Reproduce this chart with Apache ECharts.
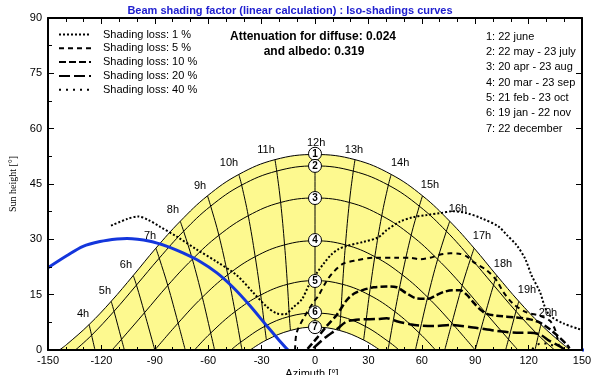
<!DOCTYPE html>
<html>
<head>
<meta charset="utf-8">
<script src="https://cdn.jsdelivr.net/npm/echarts@6/dist/echarts.min.js"></script>
<style>
html, body { margin: 0; padding: 0; background: #fff; }
#chart { width: 606px; height: 375px; }
</style>
</head>
<body>
<div id="chart"></div>
<script>
// sun paths [azimuth, sun height]
const june = [[-143.6,0],[-139.5,1.5],[-126.9,6.9],[-114.5,13.2],[-102.1,20.2],[-89.4,27.6],[-75.7,34.9],[-60.4,41.8],[-42.8,47.6],[-22.5,51.6],[0,53.0],[22.5,51.6],[42.8,47.6],[60.4,41.8],[75.7,34.9],[89.4,27.6],[102.1,20.2],[114.5,13.2],[126.9,6.9],[139.5,1.5],[143.6,0]]
const mayJuly = [[-134.6,0],[-125.5,4.0],[-112.9,10.5],[-100.3,17.6],[-87.5,24.9],[-73.8,32.2],[-58.6,39.0],[-41.2,44.7],[-21.5,48.5],[0,49.9],[21.5,48.5],[41.2,44.7],[58.6,39.0],[73.8,32.2],[87.5,24.9],[100.3,17.6],[112.9,10.5],[125.5,4.0],[134.6,0]]
const aprAug = [[-114.0,0],[-108.7,2.9],[-95.8,10.1],[-82.7,17.5],[-68.9,24.6],[-54.0,31.1],[-37.5,36.4],[-19.3,40.0],[0,41.2],[19.3,40.0],[37.5,36.4],[54.0,31.1],[68.9,24.6],[82.7,17.5],[95.8,10.1],[108.7,2.9],[114.0,0]]
const marSep = [[-90,0],[-76.9,7.3],[-63.3,14.3],[-49.0,20.4],[-33.6,25.3],[-17.1,28.5],[0,29.6],[17.1,28.5],[33.6,25.3],[49.0,20.4],[63.3,14.3],[76.9,7.3],[90,0]]
const febOct = [[-67.7,0],[-58.6,4.6],[-44.9,10.4],[-30.5,14.9],[-15.5,17.8],[0,18.8],[15.5,17.8],[30.5,14.9],[44.9,10.4],[58.6,4.6],[67.7,0]]
const janNov = [[-47.2,0],[-41.8,2.1],[-28.3,6.4],[-14.4,9.1],[0,10.0],[14.4,9.1],[28.3,6.4],[41.8,2.1],[47.2,0]]
const december = [[-36.4,0],[-27.3,2.7],[-13.8,5.3],[0,6.2],[13.8,5.3],[27.3,2.7],[36.4,0]]

// hour lines, from june down to december / horizon
const h4 = [[-126.9,6.9],[-125.5,4.0],[-123.6,0]]
const h5 = [[-114.5,13.2],[-112.9,10.5],[-108.7,2.9],[-107.1,0]]
const h6 = [[-102.1,20.2],[-100.3,17.6],[-95.8,10.1],[-90,0]]
const h7 = [[-89.4,27.6],[-87.5,24.9],[-82.7,17.5],[-76.9,7.3],[-72.9,0]]
const h8 = [[-75.7,34.9],[-73.8,32.2],[-68.9,24.6],[-63.3,14.3],[-58.6,4.6],[-56.4,0]]
const h9 = [[-60.4,41.8],[-58.6,39.0],[-54.0,31.1],[-49.0,20.4],[-44.9,10.4],[-41.8,2.1],[-41.0,0]]
const h10 = [[-42.8,47.6],[-41.2,44.7],[-37.5,36.4],[-33.6,25.3],[-30.5,14.9],[-28.3,6.4],[-27.3,2.7]]
const h11 = [[-22.5,51.6],[-21.5,48.5],[-19.3,40.0],[-17.1,28.5],[-15.5,17.8],[-14.4,9.1],[-13.8,5.3]]
const h12 = [[0,53.0],[0,6.2]]
const h13 = [[22.5,51.6],[21.5,48.5],[19.3,40.0],[17.1,28.5],[15.5,17.8],[14.4,9.1],[13.8,5.3]]
const h14 = [[42.8,47.6],[41.2,44.7],[37.5,36.4],[33.6,25.3],[30.5,14.9],[28.3,6.4],[27.3,2.7]]
const h15 = [[60.4,41.8],[58.6,39.0],[54.0,31.1],[49.0,20.4],[44.9,10.4],[41.8,2.1],[41.0,0]]
const h16 = [[75.7,34.9],[73.8,32.2],[68.9,24.6],[63.3,14.3],[58.6,4.6],[56.4,0]]
const h17 = [[89.4,27.6],[87.5,24.9],[82.7,17.5],[76.9,7.3],[72.9,0]]
const h18 = [[102.1,20.2],[100.3,17.6],[95.8,10.1],[90,0]]
const h19 = [[114.5,13.2],[112.9,10.5],[108.7,2.9],[107.1,0]]
const h20 = [[126.9,6.9],[125.5,4.0],[123.6,0]]

const hourNames = ['4h','5h','6h','7h','8h','9h','10h','11h','12h','13h','14h','15h','16h','17h','18h','19h','20h']
const hourLabelPos = [[-130.3,9.7],[-118.0,16.0],[-106.2,23.1],[-92.7,30.8],[-79.8,37.9],[-64.6,44.5],[-48.3,50.8],[-27.5,54.3],[0.6,56.0],[21.9,54.3],[47.8,50.8],[64.6,44.8],[80.3,38.2],[93.8,30.8],[105.6,23.4],[119.1,16.3],[130.9,10.0]]

const dateMarks = ['1','2','3','4','5','6','7']
const dateMarkHeights = [53.2, 49.9, 41.2, 29.8, 18.7, 10.2, 6.2]
const dateLabels = ['1: 22 june','2: 22 may - 23 july','3: 20 apr - 23 aug','4: 20 mar - 23 sep','5: 21 feb - 23 oct','6: 19 jan - 22 nov','7: 22 december']

// iso-shading curves
const lossNames = ['Shading loss: 1 %','Shading loss: 5 %','Shading loss: 10 %','Shading loss: 20 %','Shading loss: 40 %']
const loss1 = [[-114.6,33.7],[-105.6,35.5],[-99.4,36.2],[-93.8,35.3],[-87.0,33.4],[-77.5,30.7],[-66.3,27.2],[-55.1,23.9],[-43.8,20.2],[-34.8,15.6],[-27.0,11.7],[-21.4,9.9],[-16.9,9.7],[-12.4,11.5],[-7.3,13.8],[-3.5,17.5],[1.2,21.0],[5,23.5],[9,25.8],[13,27.3],[17.8,28.2],[27.1,29.3],[35.4,30.5],[40.3,32.5],[47.8,34.8],[55.1,36.0],[62.8,36.6],[70.2,37.1],[77.5,37.6],[85.2,37.1],[93.6,35.7],[103.0,33.5],[107.7,31.2],[113.3,28.4],[118.0,24.8],[121.7,20.2],[126.4,15.7],[129.2,11.6],[132.0,9.3],[139.5,7.2],[148.9,5.6]]
const loss5 = [[-11.2,0],[-10.3,4.7],[-5.6,9.3],[-0.9,12.9],[1.9,14.7],[6.6,18.8],[10.3,21.1],[15.9,23.4],[23.4,24.3],[32.8,25.0],[45.9,25.0],[53.4,25.0],[59.0,24.6],[64.6,25.0],[70,25.8],[76,26.2],[81,26.1],[85.2,25.4],[88.9,23.9],[96.5,21.6],[102.1,18.8],[105.8,15.7],[111.4,12.5],[118.9,10.2],[126.4,9.3],[132.0,7.9],[134.8,5.6],[136.3,3.0],[137,1.0]]
const loss10 = [[-4.2,0.3],[1.5,3.5],[6.6,6.5],[12.2,9.5],[17.8,13.5],[22,15.3],[27.1,16.3],[33,17.0],[40,17.2],[45.9,17.0],[51,15.5],[57.1,14.0],[63.7,13.9],[68,14.8],[72.1,15.7],[77,16.2],[81.5,16.2],[85.2,15.0],[88.5,13.2],[92.7,11.0],[96.5,9.8],[102.1,9.3],[113.3,8.8],[120.8,8.3],[126.4,7.4],[132.0,5.6],[137.6,3.3],[141.4,1.5],[143,0.5]]
const loss20 = [[-0.9,0.5],[5.6,3.3],[12.2,5.6],[17.8,7.7],[25.3,8.3],[34.7,8.4],[40.3,8.6],[45.9,7.8],[53.4,7.0],[60,6.6],[67.4,6.5],[75.8,6.8],[88.9,6.1],[102.1,5.2],[113.3,4.7],[120.8,4.7],[126.4,4.2],[132.0,2.4],[137.6,1.0],[140,0.2]]
const loss40 = [[122,0.3],[127,1.8],[132,1.6],[136,0.4]]

// plane limit ("behind the plane")
const behindPlane = [[-150,22.3],[-139.3,25.6],[-130.3,28.1],[-120.8,29.4],[-111.2,30.1],[-105.6,30.2],[-92.7,29.5],[-83.1,28.1],[-74.2,26.3],[-64.6,24.0],[-55.1,20.9],[-46.1,17.0],[-36.5,12.0],[-27.0,6.5],[-19.7,2.4],[-15.2,0]]
const behindTail = [[150,0],[163.5,0]]

const FONT = 'Liberation Sans, Arial, sans-serif'

function thinLine(data) {
  return {
    type: 'line', data: data, smooth: 0.4, symbol: 'none', silent: true,
    lineStyle: { color: '#000', width: 1 }
  }
}

function lossLine(name, data, width, dash) {
  return {
    name: name, type: 'line', data: data, smooth: 0.3, symbol: 'none', silent: true,
    lineStyle: { color: '#000', width: width, type: dash },
    itemStyle: { color: '#000' }
  }
}

const chart = echarts.init(document.getElementById('chart'))

const series = [
  {
    type: 'line', data: june, smooth: 0.4, symbol: 'none', silent: true,
    lineStyle: { color: '#000', width: 1 },
    areaStyle: { color: '#fdf98f', opacity: 1 }
  },
  {
    type: 'line', data: december, smooth: 0.4, symbol: 'none', silent: true,
    lineStyle: { color: '#000', width: 1 },
    areaStyle: { color: '#fff', opacity: 1 }
  }
]
;[mayJuly, aprAug, marSep, febOct, janNov].forEach(d => series.push(thinLine(d)))
;[h4, h5, h6, h7, h8, h9, h10, h11, h12, h13, h14, h15, h16, h17, h18, h19, h20].forEach(d => series.push(thinLine(d)))

series.push(lossLine(lossNames[0], loss1, 2, [2, 2]))
series.push(lossLine(lossNames[1], loss5, 2, [5, 4]))
series.push(lossLine(lossNames[2], loss10, 2.5, [7, 3]))
series.push(lossLine(lossNames[3], loss20, 2.5, [11, 4]))
series.push(lossLine(lossNames[4], loss40, 2, [2, 5]))

series.push({
  type: 'line', data: behindPlane, smooth: 0.3, symbol: 'none', silent: true,
  lineStyle: { color: '#1436dc', width: 3 }
})
series.push({
  type: 'line', data: behindTail, symbol: 'none', silent: true, clip: false,
  lineStyle: { color: '#1436dc', width: 3 }
})

series.push({
  type: 'scatter', silent: true, symbolSize: 0, z: 5,
  itemStyle: { opacity: 1 },
  data: hourNames.map((n, i) => ({ name: n, value: hourLabelPos[i] })),
  label: { show: true, position: 'inside', formatter: '{b}', color: '#000', fontSize: 11, fontFamily: FONT }
})
series.push({
  type: 'scatter', silent: true, symbol: 'circle', symbolSize: 13, z: 6,
  itemStyle: { color: '#fff', borderColor: '#000', borderWidth: 1, opacity: 1 },
  data: dateMarks.map((n, i) => ({ name: n, value: [0, dateMarkHeights[i]] })),
  label: { show: true, position: 'inside', formatter: '{b}', color: '#000', fontSize: 10, fontWeight: 'bold', fontFamily: FONT }
})

const graphic = [
  { type: 'text', x: 290, y: 11, style: { text: 'Beam shading factor (linear calculation) : Iso-shadings curves', fill: '#2020d0', font: 'bold 11px ' + FONT, textAlign: 'center', textVerticalAlign: 'middle' } },
  { type: 'text', x: 313, y: 37, style: { text: 'Attenuation for diffuse: 0.024', fill: '#000', font: 'bold 12px ' + FONT, textAlign: 'center', textVerticalAlign: 'middle' } },
  { type: 'text', x: 314, y: 52, style: { text: 'and albedo: 0.319', fill: '#000', font: 'bold 12px ' + FONT, textAlign: 'center', textVerticalAlign: 'middle' } },
  { type: 'text', x: 230, y: 324, style: { text: 'Behind', fill: '#2a2ab8', font: '11px ' + FONT, textAlign: 'center', textVerticalAlign: 'middle' } },
  { type: 'text', x: 224, y: 335, style: { text: 'the plane', fill: '#2a2ab8', font: '11px ' + FONT, textAlign: 'center', textVerticalAlign: 'middle' } },
  { type: 'text', x: 312, y: 368, style: { text: 'Azimuth [°]', fill: '#000', font: '11px ' + FONT, textAlign: 'center', textVerticalAlign: 'top' } }
]
dateLabels.forEach((t, i) => {
  graphic.push({ type: 'text', x: 486, y: 36.7 + i * 15.3, style: { text: t, fill: '#000', font: '11px ' + FONT, textAlign: 'left', textVerticalAlign: 'middle' } })
})

const frameLine = { onZero: false, lineStyle: { color: '#000', width: 2 } }

chart.setOption({
  animation: false,
  backgroundColor: '#fff',
  textStyle: { fontFamily: FONT },
  grid: { left: 48, right: 24, top: 18, bottom: 25 },
  legend: {
    orient: 'vertical', left: 58, top: 29, itemWidth: 32, itemHeight: 12, itemGap: 2.8, padding: 0,
    selectedMode: false, data: lossNames,
    itemStyle: { opacity: 0, borderWidth: 0 },
    textStyle: { fontSize: 11, color: '#000', fontFamily: FONT, padding: [0, 0, 0, 7] }
  },
  xAxis: [
    {
      type: 'value', position: 'bottom', min: -150, max: 150, interval: 30, z: 10,
      axisLine: frameLine,
      axisTick: { inside: true, length: 5, lineStyle: { color: '#000' } },
      minorTick: { show: true, splitNumber: 3, length: 3, lineStyle: { color: '#000' } },
      axisLabel: { color: '#000', fontSize: 11, margin: 5 },
      splitLine: { show: false }
    },
    {
      type: 'value', position: 'top', min: -150, max: 150, interval: 30, z: 10,
      axisLine: frameLine,
      axisTick: { inside: true, length: 6, lineStyle: { color: '#000' } },
      minorTick: { show: true, splitNumber: 3, length: 4, lineStyle: { color: '#000' } },
      axisLabel: { show: false },
      splitLine: { show: false }
    }
  ],
  yAxis: [
    {
      type: 'value', position: 'left', min: 0, max: 90, interval: 15, z: 10,
      name: 'Sun height [°]', nameLocation: 'middle', nameGap: 22,
      nameTextStyle: { color: '#000', fontSize: 10, fontFamily: 'Liberation Serif, serif' },
      axisLine: frameLine,
      axisTick: { inside: true, length: 6, lineStyle: { color: '#000' } },
      minorTick: { show: true, splitNumber: 2, length: 4, lineStyle: { color: '#000' } },
      axisLabel: { color: '#000', fontSize: 11, margin: 6 },
      splitLine: { show: false }
    },
    {
      type: 'value', position: 'right', min: 0, max: 90, interval: 15, z: 10,
      axisLine: frameLine,
      axisTick: { inside: true, length: 6, lineStyle: { color: '#000' } },
      axisLabel: { show: false },
      splitLine: { show: false }
    }
  ],
  graphic: graphic,
  series: series
})
</script>
</body>
</html>
